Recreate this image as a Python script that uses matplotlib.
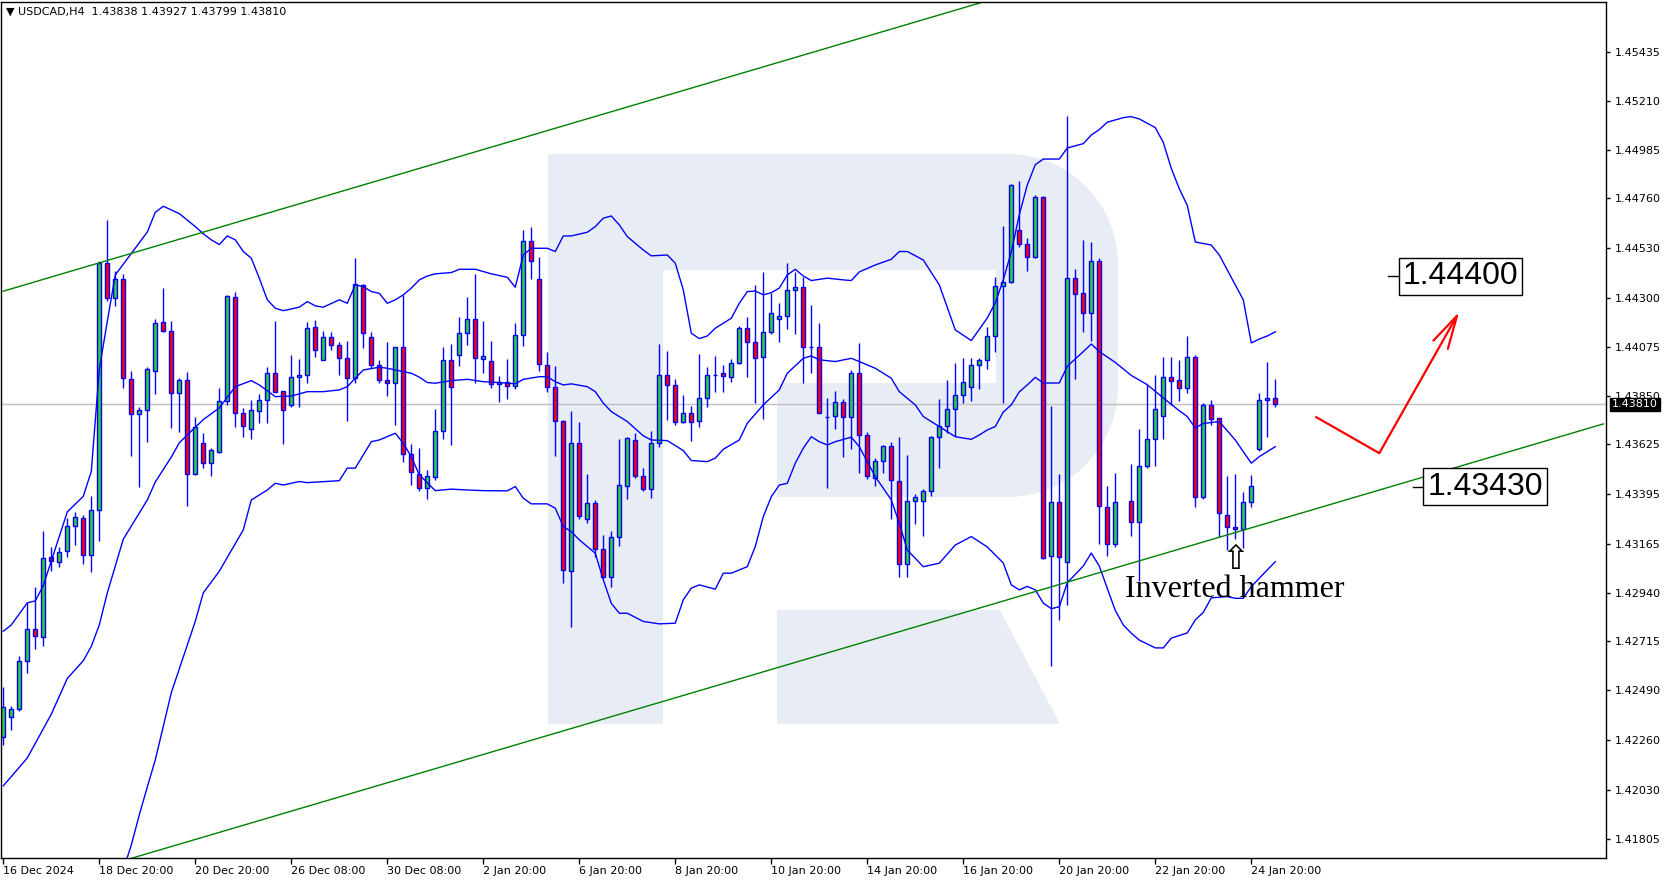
import numpy as np
import matplotlib
matplotlib.use("Agg")
import matplotlib.pyplot as plt
from matplotlib.patches import Rectangle, Polygon
from matplotlib.transforms import Affine2D

# ---------------- data (USDCAD H4) ----------------
opens = [1.42272, 1.42367, 1.42402, 1.42623, 1.42771, 1.42735, 1.43103, 1.43082, 1.43131, 1.43246,
         1.43284, 1.43116, 1.43320, 1.44461, 1.44300, 1.44387, 1.43925, 1.43764, 1.43782, 1.43962,
         1.44188, 1.44147, 1.43861, 1.43920, 1.43487, 1.43632, 1.43538, 1.43591, 1.43824, 1.44304,
         1.43768, 1.43695, 1.43778, 1.43828, 1.43953, 1.43870, 1.43805, 1.43935, 1.43944, 1.44166,
         1.44016, 1.44119, 1.44082, 1.44022, 1.43930, 1.44359, 1.44119, 1.43990, 1.43921, 1.43907,
         1.44073, 1.43579, 1.43487, 1.43422, 1.43473, 1.43685, 1.44013, 1.44036, 1.44138, 1.44202,
         1.44019, 1.44009, 1.43902, 1.43912, 1.43894, 1.44128, 1.44562, 1.44387, 1.43990, 1.43889,
         1.43732, 1.43040, 1.43630, 1.43279, 1.43353, 1.43141, 1.43014, 1.43199, 1.43431, 1.43644,
         1.43480, 1.43418, 1.43630, 1.43944, 1.43898, 1.43727, 1.43768, 1.43732, 1.43838, 1.43944,
         1.43953, 1.43935, 1.43999, 1.44161, 1.44096, 1.44027, 1.44142, 1.44202, 1.44216, 1.44336,
         1.44350, 1.44076, 1.44076, 1.43753, 1.43755, 1.43822, 1.43750, 1.43953, 1.43667, 1.43470,
         1.43547, 1.43616, 1.43455, 1.43071, 1.43362, 1.43362, 1.43408, 1.43658, 1.43708, 1.43787,
         1.43852, 1.43889, 1.43990, 1.44013, 1.44124, 1.44356, 1.44373, 1.44614, 1.44549, 1.44492,
         1.44766, 1.43109, 1.43357, 1.43082, 1.44393, 1.44322, 1.44229, 1.44470, 1.43335, 1.43166,
         None, 1.43362, 1.43265, 1.43527, 1.43648, 1.43757, 1.43935, 1.43922, 1.43884, 1.44030,
         1.43381, 1.43808, 1.43745, 1.43299, 1.43242, 1.43233, 1.43360, 1.43604, 1.43828, 1.43838]
highs = [1.42503, 1.42417, 1.42646, 1.42893, 1.42968, 1.43223, 1.43151, 1.43151, 1.43286, 1.43311,
         1.43299, 1.43388, 1.44472, 1.44659, 1.44424, 1.44410, 1.43965, 1.43797, 1.43983, 1.44204,
         1.44347, 1.44193, 1.43932, 1.43957, 1.43751, 1.43678, 1.43609, 1.43884, 1.44316, 1.44328,
         1.43792, 1.43830, 1.43858, 1.43982, 1.44195, 1.43872, 1.44039, 1.44019, 1.44189, 1.44199,
         1.44148, 1.44142, 1.44096, 1.44102, 1.44485, 1.44367, 1.44142, 1.44013, 1.44096, 1.44075,
         1.44316, 1.43625, 1.43610, 1.43505, 1.43788, 1.44075, 1.44088, 1.44213, 1.44305, 1.44412,
         1.44195, 1.44102, 1.43941, 1.44019, 1.44184, 1.44615, 1.44630, 1.44490, 1.44051, 1.43988,
         1.43735, 1.43780, 1.43730, 1.43488, 1.43368, 1.43207, 1.43225, 1.43651, 1.43659, 1.43676,
         1.43516, 1.43685, 1.44087, 1.44056, 1.43927, 1.43853, 1.43802, 1.44042, 1.43982, 1.44033,
         1.43991, 1.44018, 1.44171, 1.44212, 1.44361, 1.44421, 1.44322, 1.44278, 1.44461, 1.44422,
         1.44396, 1.44268, 1.44184, 1.43838, 1.43870, 1.43834, 1.43968, 1.44092, 1.43681, 1.43562,
         1.43624, 1.43636, 1.43658, 1.43576, 1.43395, 1.43420, 1.43665, 1.43834, 1.43922, 1.44001,
         1.44025, 1.44025, 1.44025, 1.44168, 1.44398, 1.44631, 1.44825, 1.44839, 1.44576, 1.44774,
         1.44770, 1.43801, 1.43486, 1.45140, 1.44433, 1.44568, 1.44557, 1.44484, 1.43433, 1.43491,
         None, 1.43534, 1.43696, 1.43901, 1.43945, 1.44027, 1.44027, 1.44015, 1.44125, 1.44035,
         1.43817, 1.43830, 1.43748, 1.43479, 1.43488, 1.43407, 1.43484, 1.43861, 1.44004, 1.43927]
lows = [1.42239, 1.42308, 1.42395, 1.42567, 1.42679, 1.42692, 1.43039, 1.43060, 1.43106, 1.43162,
        1.43071, 1.43034, 1.43178, 1.44288, 1.44265, 1.43883, 1.43570, 1.43429, 1.43637, 1.43855,
        1.44145, 1.43698, 1.43682, 1.43342, 1.43484, 1.43516, 1.43480, 1.43584, 1.43807, 1.43707,
        1.43660, 1.43648, 1.43722, 1.43722, 1.43865, 1.43625, 1.43796, 1.43799, 1.43907, 1.44030,
        1.44013, 1.44059, 1.43945, 1.43734, 1.43907, 1.44071, 1.43976, 1.43907, 1.43847, 1.43713,
        1.43542, 1.43436, 1.43408, 1.43371, 1.43461, 1.43651, 1.43624, 1.43988, 1.44085, 1.43910,
        1.43956, 1.43884, 1.43822, 1.43834, 1.43882, 1.44080, 1.44387, 1.43965, 1.43868, 1.43573,
        1.42984, 1.42783, 1.43279, 1.43263, 1.43106, 1.43010, 1.42968, 1.43157, 1.43371, 1.43468,
        1.43411, 1.43379, 1.43614, 1.43738, 1.43713, 1.43722, 1.43642, 1.43704, 1.43796, 1.43868,
        1.43868, 1.43914, 1.43996, 1.43937, 1.43817, 1.43744, 1.44136, 1.44099, 1.44159, 1.44136,
        1.43910, 1.43956, 1.43768, 1.43422, 1.43697, 1.43568, 1.43604, 1.43491, 1.43464, 1.43434,
        1.43491, 1.43279, 1.43011, 1.43014, 1.43257, 1.43203, 1.43388, 1.43517, 1.43676, 1.43665,
        1.43817, 1.43827, 1.43882, 1.43974, 1.44053, 1.43814, 1.44370, 1.44535, 1.44424, 1.44485,
        1.43095, 1.42602, 1.42815, 1.42883, 1.43925, 1.44144, 1.44100, 1.43165, 1.43111, 1.43153,
        None, 1.43203, 1.42996, 1.43515, 1.43527, 1.43648, 1.43805, 1.43827, 1.43861, 1.43335,
        1.43373, 1.43714, 1.43199, 1.43137, 1.43187, 1.43145, 1.43335, 1.43596, 1.43658, 1.43799]
closes = [1.42412, 1.42402, 1.42623, 1.42771, 1.42739, 1.43100, 1.43085, 1.43129, 1.43246, 1.43289,
          1.43116, 1.43320, 1.44463, 1.44300, 1.44387, 1.43932, 1.43764, 1.43784, 1.43972, 1.44184,
          1.44147, 1.43861, 1.43920, 1.43487, 1.43705, 1.43540, 1.43597, 1.43824, 1.44309, 1.43768,
          1.43708, 1.43782, 1.43828, 1.43953, 1.43867, 1.43782, 1.43935, 1.43944, 1.44161, 1.44059,
          1.44119, 1.44082, 1.44022, 1.43930, 1.44364, 1.44138, 1.43990, 1.43921, 1.43907, 1.44073,
          1.43579, 1.43496, 1.43422, 1.43478, 1.43685, 1.44013, 1.43889, 1.44138, 1.44202, 1.44022,
          1.44032, 1.43904, 1.43912, 1.43894, 1.44128, 1.44562, 1.44470, 1.43996, 1.43889, 1.43732,
          1.43045, 1.43630, 1.43294, 1.43353, 1.43141, 1.43014, 1.43199, 1.43436, 1.43653, 1.43480,
          1.43418, 1.43630, 1.43944, 1.43898, 1.43727, 1.43768, 1.43727, 1.43838, 1.43944, 1.43947,
          1.43939, 1.43999, 1.44161, 1.44096, 1.44022, 1.44142, 1.44230, 1.44216, 1.44336, 1.44350,
          1.44073, 1.44073, 1.43770, 1.43750, 1.43822, 1.43750, 1.43953, 1.43667, 1.43478, 1.43547,
          1.43616, 1.43459, 1.43071, 1.43362, 1.43381, 1.43408, 1.43658, 1.43708, 1.43787, 1.43852,
          1.43912, 1.43990, 1.44013, 1.44124, 1.44355, 1.44373, 1.44820, 1.44549, 1.44492, 1.44766,
          1.43100, 1.43357, 1.43104, 1.44393, 1.44320, 1.44229, 1.44473, 1.43341, 1.43164, 1.43359,
          None, 1.43265, 1.43524, 1.43648, 1.43788, 1.43935, 1.43916, 1.43884, 1.44030, 1.43381,
          1.43808, 1.43742, 1.43307, 1.43242, 1.43233, 1.43360, 1.43431, 1.43828, 1.43838, 1.43810]

# Bollinger bands (bar index, price)
bb_upper_bars = [0, 1, 3, 4, 5, 8, 10, 11, 12, 13, 14, 16, 18, 19, 20, 21, 22, 24, 25, 26, 27, 28, 29, 30,
                 31, 32, 33, 34, 35, 37, 38, 39, 40, 42, 43, 44, 45, 46, 47, 48, 49, 50, 51, 52, 53, 54,
                 56, 57, 59, 61, 63, 64, 65, 66, 68, 69, 70, 71, 73, 74, 75, 76, 77, 78, 80, 81, 83, 84,
                 85, 86, 87, 88, 89, 91, 92, 93, 94, 95, 96, 97, 98, 99, 100, 101, 103, 105, 106, 107,
                 109, 111, 112, 113, 115, 117, 119, 121, 123, 124, 125, 126, 127, 128, 129, 130, 132,
                 133, 135, 136, 137, 138, 140, 141, 142, 144, 145, 146, 147, 148, 149, 150, 151, 152,
                 153, 154, 155, 156, 157, 158, 159]
bb_upper = [1.42762, 1.42791, 1.42893, 1.42902, 1.42973, 1.43313, 1.43385, 1.43500, 1.43970, 1.44193,
            1.44407, 1.44506, 1.44605, 1.44696, 1.44724, 1.44707, 1.44690, 1.44630, 1.44597, 1.44569,
            1.44547, 1.44587, 1.44569, 1.44515, 1.44484, 1.44392, 1.44292, 1.44253, 1.44242, 1.44258,
            1.44284, 1.44264, 1.44258, 1.44292, 1.44276, 1.44361, 1.44353, 1.44330, 1.44322, 1.44276,
            1.44292, 1.44315, 1.44346, 1.44384, 1.44402, 1.44412, 1.44418, 1.44433, 1.44433, 1.44412,
            1.44396, 1.44350, 1.44499, 1.44530, 1.44530, 1.44515, 1.44587, 1.44587, 1.44604, 1.44630,
            1.44669, 1.44679, 1.44638, 1.44584, 1.44522, 1.44495, 1.44499, 1.44461, 1.44338, 1.44138,
            1.44113, 1.44125, 1.44161, 1.44207, 1.44276, 1.44330, 1.44333, 1.44315, 1.44325, 1.44346,
            1.44407, 1.44433, 1.44402, 1.44381, 1.44392, 1.44384, 1.44381, 1.44421, 1.44453, 1.44479,
            1.44515, 1.44515, 1.44476, 1.44361, 1.44153, 1.44104, 1.44208, 1.44278, 1.44384, 1.44513,
            1.44685, 1.44822, 1.44916, 1.44942, 1.44942, 1.44993, 1.45013, 1.45053, 1.45078, 1.45112,
            1.45133, 1.45138, 1.45127, 1.45087, 1.45019, 1.44899, 1.44805, 1.44728, 1.44559, 1.44552,
            1.44545, 1.44499, 1.44430, 1.44361, 1.44292, 1.44093, 1.44111, 1.44125, 1.44144]
bb_mid_bars = [0, 3, 6, 8, 10, 11, 12, 13, 15, 18, 19, 21, 22, 23, 25, 27, 29, 31, 32, 34, 36, 38, 40, 42,
               43, 44, 45, 47, 48, 49, 51, 52, 53, 54, 56, 58, 60, 62, 64, 65, 67, 68, 69, 70, 71, 73,
               74, 75, 76, 78, 80, 81, 83, 85, 86, 88, 89, 90, 92, 93, 95, 97, 98, 100, 101, 102, 104,
               106, 107, 109, 111, 112, 114, 115, 117, 119, 121, 122, 123, 124, 125, 126, 127, 128, 129,
               130, 132, 133, 135, 136, 137, 139, 141, 143, 145, 147, 148, 149, 150, 152, 154, 155, 156,
               157, 159]
bb_mid = [1.42048, 1.42177, 1.42379, 1.42544, 1.42626, 1.42692, 1.42791, 1.42939, 1.43187, 1.43368,
          1.43451, 1.43566, 1.43632, 1.43668, 1.43739, 1.43793, 1.43891, 1.43919, 1.43899, 1.43845,
          1.43848, 1.43868, 1.43868, 1.43876, 1.43891, 1.43930, 1.43968, 1.43981, 1.43976, 1.43968,
          1.43953, 1.43935, 1.43910, 1.43907, 1.43919, 1.43925, 1.43914, 1.43910, 1.43904, 1.43925,
          1.43937, 1.43937, 1.43914, 1.43899, 1.43904, 1.43891, 1.43868, 1.43815, 1.43776, 1.43730,
          1.43664, 1.43645, 1.43642, 1.43596, 1.43550, 1.43545, 1.43561, 1.43602, 1.43645, 1.43722,
          1.43807, 1.43876, 1.43953, 1.44022, 1.44033, 1.44015, 1.44007, 1.44022, 1.44007, 1.43976,
          1.43930, 1.43868, 1.43807, 1.43753, 1.43707, 1.43660, 1.43648, 1.43668, 1.43691, 1.43707,
          1.43774, 1.43807, 1.43867, 1.43899, 1.43934, 1.43908, 1.43908, 1.43985, 1.44053, 1.44088,
          1.44053, 1.44003, 1.43943, 1.43900, 1.43839, 1.43780, 1.43753, 1.43701, 1.43721, 1.43730,
          1.43645, 1.43591, 1.43538, 1.43568, 1.43614]
bb_lower_bars = [15, 16, 17, 18, 19, 21, 24, 25, 27, 30, 31, 33, 34, 35, 37, 38, 42, 43, 44, 46, 47, 49,
                 50, 51, 52, 54, 56, 58, 60, 63, 64, 65, 66, 68, 69, 70, 71, 72, 74, 75, 76, 77, 78, 80,
                 82, 84, 85, 86, 87, 89, 90, 91, 93, 94, 95, 96, 97, 98, 99, 100, 101, 102, 103, 104,
                 106, 107, 109, 111, 112, 113, 115, 117, 119, 121, 123, 125, 126, 127, 128, 129, 130,
                 131, 132, 133, 135, 136, 137, 138, 139, 140, 141, 142, 144, 145, 146, 148, 149, 150,
                 151, 153, 154, 155, 156, 158, 159]
bb_lower = [1.41660, 1.41775, 1.41914, 1.42043, 1.42168, 1.42478, 1.42808, 1.42939, 1.43039, 1.43230,
            1.43368, 1.43414, 1.43445, 1.43437, 1.43453, 1.43448, 1.43457, 1.43515, 1.43515, 1.43637,
            1.43645, 1.43676, 1.43630, 1.43568, 1.43484, 1.43411, 1.43418, 1.43414, 1.43411, 1.43410,
            1.43430, 1.43376, 1.43350, 1.43350, 1.43330, 1.43245, 1.43222, 1.43184, 1.43122, 1.42999,
            1.42891, 1.42845, 1.42845, 1.42807, 1.42796, 1.42799, 1.42907, 1.42961, 1.42976, 1.42956,
            1.43030, 1.43030, 1.43060, 1.43153, 1.43291, 1.43383, 1.43437, 1.43445, 1.43538, 1.43607,
            1.43660, 1.43637, 1.43622, 1.43637, 1.43658, 1.43614, 1.43476, 1.43368, 1.43261, 1.43137,
            1.43060, 1.43076, 1.43160, 1.43199, 1.43151, 1.43077, 1.42976, 1.42953, 1.42969, 1.42953,
            1.42892, 1.42866, 1.42875, 1.42986, 1.43063, 1.43123, 1.43063, 1.42960, 1.42858, 1.42791,
            1.42753, 1.42721, 1.42685, 1.42685, 1.42730, 1.42754, 1.42814, 1.42849, 1.42916, 1.42922,
            1.42914, 1.42914, 1.42968, 1.43045, 1.43083]

# trend channel (bar index, price)
channel_upper_bars = [0, 200]
channel_upper = [1.44332, 1.46512]
channel_lower_bars = [0, 200]
channel_lower = [1.41539, 1.43719]

# forecast zig-zag (bar index, price)
forecast_bars = [164, 172, 182]
forecast_prices = [1.43753, 1.43584, 1.44237]

target_level = 1.44400
support_level = 1.43430
current_price = 1.43810
hammer_bar = 154

x_tick_bars = [0, 12, 24, 36, 48, 60, 72, 84, 96, 108, 120, 132, 144, 156]
x_tick_labels = ['16 Dec 2024', '18 Dec 20:00', '20 Dec 20:00', '26 Dec 08:00', '30 Dec 08:00',
                 '2 Jan 20:00', '6 Jan 20:00', '8 Jan 20:00', '10 Jan 20:00', '14 Jan 20:00',
                 '16 Jan 20:00', '20 Jan 20:00', '22 Jan 20:00', '24 Jan 20:00']
y_tick_labels = ['1.45435', '1.45210', '1.44985', '1.44760', '1.44530', '1.44300', '1.44075', '1.43850',
                 '1.43625', '1.43395', '1.43165', '1.42940', '1.42715', '1.42490', '1.42260', '1.42030',
                 '1.41805']

# ---------------- figure ----------------
W, H = 1670, 882
plt.rcParams['font.family'] = ['DejaVu Sans']
fig = plt.figure(figsize=(W / 100, H / 100), dpi=100)
fig.patch.set_facecolor('white')
ax = fig.add_axes([1 / W, (H - 858) / H, 1605 / W, 856 / H])
ax.set_xlim(-0.2875, 200.34)
ax.set_ylim(1.41715, 1.45667)
ax.set_facecolor('white')

BLUE = '#0000FF'
GREEN = '#32CD32'
RED = '#FF0000'

# watermark logo behind the chart (pixel geometry, decoration only)
px = Affine2D().scale(1, -1).translate(0, H)
WM = '#E8EDF5'
r = 110
t1 = np.linspace(-np.pi / 2, 0, 30)
t2 = np.linspace(0, np.pi / 2, 30)
bowl = [(548, 154)] + [(1008 + r * np.cos(t), 264 + r * np.sin(t)) for t in t1] + \
       [(1008 + r * np.cos(t), 387 + r * np.sin(t)) for t in t2] + [(548, 497)]
wm_parts = [(Polygon(bowl, closed=True), WM, 0.1),
            (Rectangle((548, 154), 115, 570), WM, 0.1),
            (Polygon([(777, 610), (1000, 610), (1060, 724), (777, 724)], closed=True), WM, 0.1),
            (Rectangle((663, 270), 333, 113), 'white', 0.2),
            (Rectangle((663, 383), 114, 114), 'white', 0.2)]
for patch, col, z in wm_parts:
    patch.set_transform(px)
    patch.set_facecolor(col)
    patch.set_edgecolor('none')
    patch.set_zorder(z)
    ax.add_patch(patch)

# candles
o = np.array(opens, dtype=float)
h = np.array(highs, dtype=float)
l = np.array(lows, dtype=float)
c = np.array(closes, dtype=float)
idx = np.arange(len(o))
ok = ~np.isnan(o)
ax.vlines(idx[ok], l[ok], h[ok], color=BLUE, lw=1, zorder=2)
up = ok & (c >= o)
dn = ok & (c < o)
ax.bar(idx[up], c[up] - o[up], bottom=o[up], width=0.5, color=GREEN, edgecolor=BLUE, lw=1, zorder=3)
ax.bar(idx[dn], o[dn] - c[dn], bottom=c[dn], width=0.5, color=RED, edgecolor=BLUE, lw=1, zorder=3)

# current price line
ax.axhline(current_price, color='#C0C0C0', lw=1, zorder=1)

# Bollinger bands
for bx, by in [(bb_upper_bars, bb_upper), (bb_mid_bars, bb_mid), (bb_lower_bars, bb_lower)]:
    ax.plot(bx, by, color=BLUE, lw=1, zorder=4)

# channel
ax.plot(channel_upper_bars, channel_upper, color='#008000', lw=1, zorder=4)
ax.plot(channel_lower_bars, channel_lower, color='#008000', lw=1, zorder=4)

# forecast arrow
ax.plot(forecast_bars[:2], forecast_prices[:2], color=RED, lw=1.6, zorder=5, solid_capstyle='butt')
ax.annotate('', xy=(forecast_bars[2], forecast_prices[2]), xytext=(forecast_bars[1], forecast_prices[1]),
            arrowprops=dict(arrowstyle='->,head_length=2.4,head_width=0.6', color=RED, lw=1.6,
                            shrinkA=0, shrinkB=0), zorder=5)

# level labels
for lvl, x0 in [(target_level, 173.1), (support_level, 176.2)]:
    ax.plot([x0, x0 + 1.3], [lvl, lvl], color='black', lw=1, zorder=5)
    ax.text(x0 + 1.8, lvl, f'{lvl:.5f}', fontsize=23, fontfamily='Liberation Sans', ha='left',
            va='center', color='black', zorder=6,
            bbox=dict(boxstyle='square,pad=0.12', fc='white', ec='black', lw=1))

# inverted hammer annotation
ax.text(hammer_bar, 1.43093, '\u21e7', fontsize=24, ha='center', va='center', color='black', zorder=6)
ax.text(140.2, 1.42922, 'Inverted hammer', fontfamily='Liberation Serif', fontsize=23,
        ha='left', va='baseline', color='black', zorder=6)

# axes styling
for s in ax.spines.values():
    s.set_color('black')
    s.set_linewidth(1)
    s.set_zorder(7)
ax.yaxis.tick_right()
ax.set_yticks([float(v) for v in y_tick_labels])
ax.set_yticklabels(y_tick_labels)
ax.tick_params(axis='y', direction='out', length=3, width=1, pad=3, labelsize=8, colors='black')
ax.set_xticks(x_tick_bars)
ax.set_xticklabels(x_tick_labels, ha='left')
ax.tick_params(axis='x', direction='out', length=4, width=1, pad=2, labelsize=8, colors='black')

ax.annotate(f'{current_price:.5f}', xy=(1, current_price), xycoords=('axes fraction', 'data'),
            xytext=(6, 0), textcoords='offset pixels', ha='left', va='center', color='white',
            fontsize=8, annotation_clip=False, zorder=10,
            bbox=dict(boxstyle='square,pad=0.15', fc='black', ec='black'))

fig.text(6 / W, 1 - 12 / H, '\u25bc USDCAD,H4  1.43838 1.43927 1.43799 1.43810', fontsize=8,
         ha='left', va='center', color='black')

fig.savefig('out.png', dpi=100, facecolor='white')
